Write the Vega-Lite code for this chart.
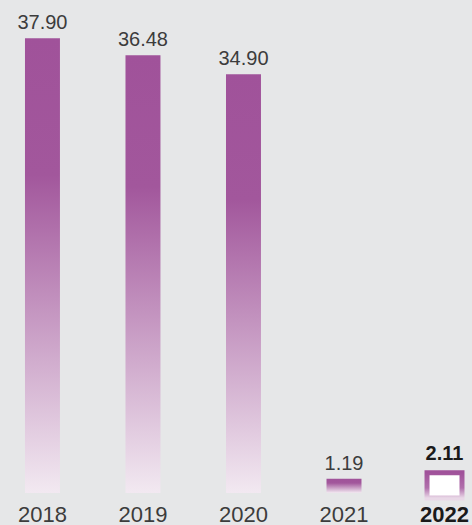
{
  "$schema": "https://vega.github.io/schema/vega-lite/v6.json",
  "width": 472,
  "height": 493,
  "padding": 0,
  "background": "#e6e7e8",
  "config": {"view": {"stroke": null}, "font": "Liberation Sans"},
  "data": {"values": [
    {"year": "2018", "value": 37.90, "label": "37.90"},
    {"year": "2019", "value": 36.48, "label": "36.48"},
    {"year": "2020", "value": 34.90, "label": "34.90"},
    {"year": "2021", "value": 1.19, "label": "1.19"},
    {"year": "2022", "value": 2.11, "label": "2.11"}
  ]},
  "encoding": {
    "x": {"field": "year", "type": "nominal", "sort": null,
      "scale": {"paddingInner": 0.652, "paddingOuter": 0.174, "align": 0.714},
      "axis": {"title": null, "domain": false, "ticks": false, "labelAngle": 0, "labelPadding": 11,
        "labelFontSize": 22, "labelColor": {"condition": {"test": "datum.value == '2022'", "value": "#1a1a1a"}, "value": "#3c3c3c"},
        "labelFontWeight": {"condition": {"test": "datum.value == '2022'", "value": "bold"}, "value": "normal"}}},
    "y": {"field": "value", "type": "quantitative", "scale": {"domain": [0, 41.083], "nice": false, "zero": true}, "axis": null}
  },
  "layer": [
    {
      "transform": [{"filter": "datum.year != '2022'"}],
      "mark": {"type": "bar", "fill": {"gradient": "linear", "x1": 0, "y1": 0, "x2": 0, "y2": 1,
        "stops": [{"offset": 0, "color": "#a0529a"}, {"offset": 0.3, "color": "#a2579c"}, {"offset": 1, "color": "#f2e9f1"}]}}
    },
    {
      "transform": [{"filter": "datum.year == '2022'"}],
      "mark": {"type": "bar", "fill": "#ffffff", "strokeWidth": 5, "yOffset": 5, "y2Offset": -2, "stroke": {"gradient": "linear", "x1": 0, "y1": 0, "x2": 0, "y2": 1,
        "stops": [{"offset": 0, "color": "#a0529a"}, {"offset": 0.6, "color": "#b06fab"}, {"offset": 1, "color": "#e9d8e7"}]}}
    },
    {
      "transform": [{"filter": "datum.year != '2022'"}],
      "mark": {"type": "text", "baseline": "bottom", "dy": -5, "fontSize": 20, "color": "#3c3c3c"},
      "encoding": {"text": {"field": "label"}}
    },
    {
      "transform": [{"filter": "datum.year == '2022'"}],
      "mark": {"type": "text", "baseline": "bottom", "dy": -4, "fontSize": 20, "fontWeight": "bold", "color": "#1a1a1a"},
      "encoding": {"text": {"field": "label"}}
    }
  ]
}
